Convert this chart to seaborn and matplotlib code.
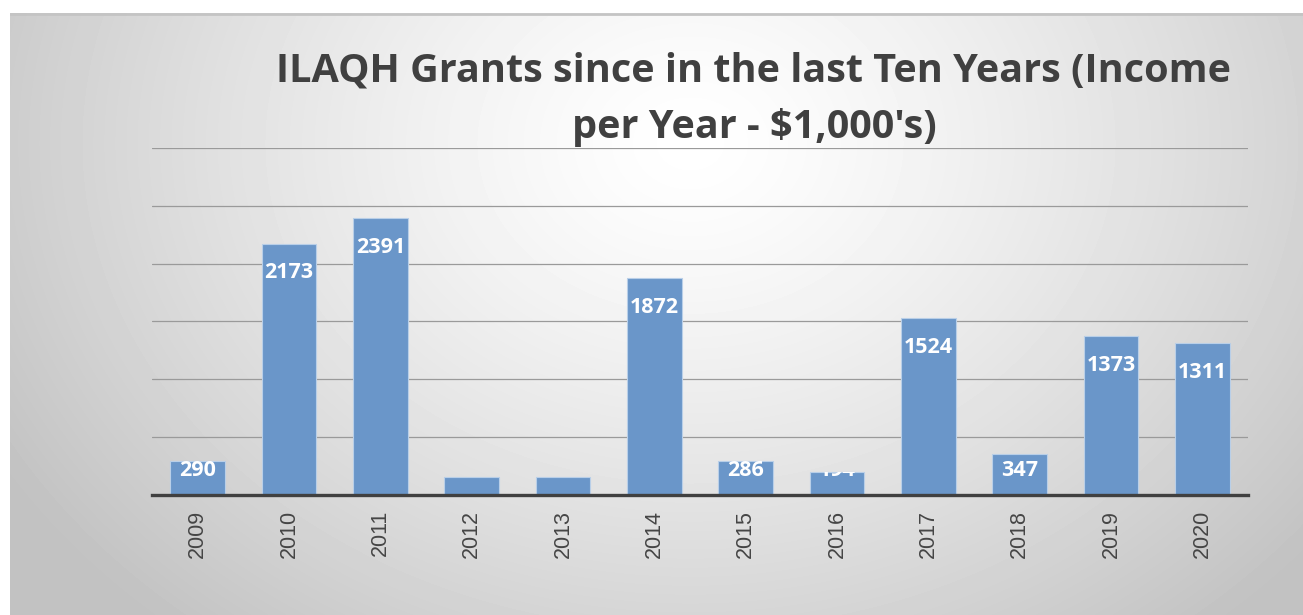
import numpy as np
import pandas as pd
import seaborn as sns
import matplotlib.pyplot as plt
from matplotlib.transforms import Bbox, TransformedBbox

years = ['2009', '2010', '2011', '2012', '2013', '2014',
         '2015', '2016', '2017', '2018', '2019', '2020']
income = [290, 2173, 2391, 150, 150, 1872, 286, 194, 1524, 347, 1373, 1311]
title = "ILAQH Grants since in the last Ten Years (Income\nper Year - $1,000's)"

df = pd.DataFrame({'year': years, 'income': income})

sns.set_theme(style='white')
plt.rcParams['font.family'] = ['Open Sans', 'DejaVu Sans']

W, H = 1303, 615
fig = plt.figure(figsize=(W / 100, H / 100), dpi=100)
fig.patch.set_facecolor('white')

# gray radial gradient panel behind the chart
bg = fig.add_axes([10 / W, 0, 1 - 10 / W, 602 / H])
bg.set_zorder(-10)
yy, xx = np.mgrid[0:602, 0:1293]
dist = np.sqrt((xx - 680) ** 2 + ((yy - 130) * 1.25) ** 2)
shade = np.clip(1.0 - 0.24 * (dist / 800) ** 1.3, 0.76, 1.0)
bg.imshow(shade, cmap='gray', vmin=0, vmax=1, aspect='auto', interpolation='bilinear')
bg.axhline(0, color='#c4c4c4', lw=2)
bg.axis('off')

ax = fig.add_axes([152 / W, (H - 494.5) / H, 1096 / W, 346.5 / H])
ax.patch.set_alpha(0)

sns.barplot(data=df, x='year', y='income', color='#6a96c9', saturation=1,
            width=0.6, edgecolor='#b9cfe8', linewidth=0.8, ax=ax, zorder=3)

ax.set_ylim(0, 3000)
ax.set_yticks(np.arange(0, 3001, 500))
ax.set_yticklabels([])
ax.tick_params(axis='y', length=0)
ax.grid(axis='y', color='#9a9a9a', lw=0.9, zorder=0)
ax.set_axisbelow(True)
for s in ['left', 'right', 'top']:
    ax.spines[s].set_visible(False)
ax.spines['bottom'].set_color('#404040')
ax.spines['bottom'].set_linewidth(2.4)
ax.spines['bottom'].set_zorder(5)
ax.set_xlabel('')
ax.set_ylabel('')
ax.tick_params(axis='x', length=0, pad=11)
for lab in ax.get_xticklabels():
    lab.set_rotation(90)
    lab.set_fontfamily('Liberation Sans')
    lab.set_fontsize(15.5)
    lab.set_color('#454545')

# value labels inside the bar end, clipped to the bar
for bar, v in zip(ax.patches, income):
    x0 = bar.get_x()
    x1 = x0 + bar.get_width()
    ypos = max(v - 255, 212)
    t = ax.text((x0 + x1) / 2, ypos, str(v), ha='center', va='center',
                color='white', fontsize=15.5, fontweight='bold', zorder=6)
    t.set_clip_box(TransformedBbox(Bbox([[x0, 0], [x1, v]]), ax.transData))
    t.set_clip_on(True)

fig.text(754 / W, 1 - 52 / H, title, ha='center', va='top', fontsize=28.5,
         fontweight='bold', color='#404040', linespacing=1.58)

fig.savefig('out.png', dpi=100)
